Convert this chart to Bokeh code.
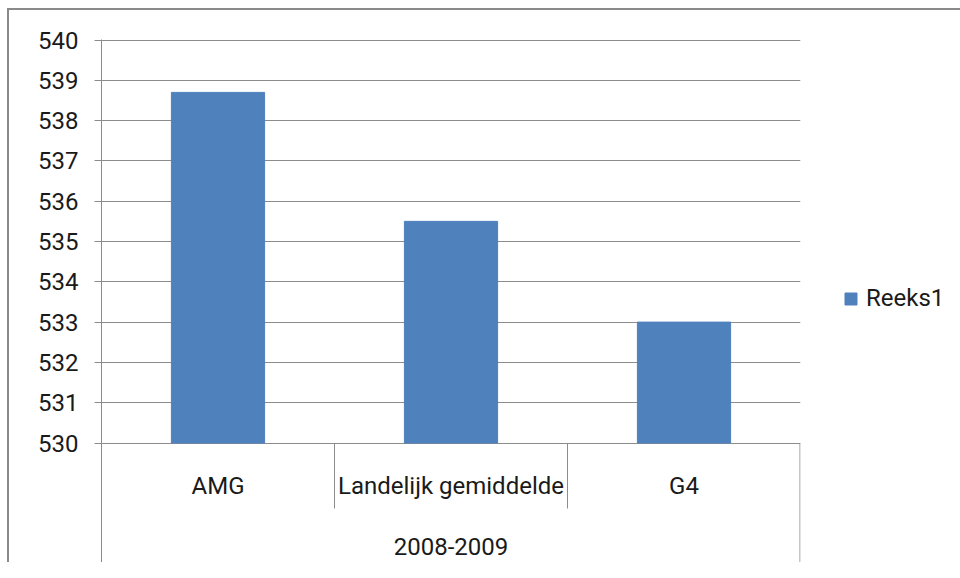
from bokeh.plotting import figure
from bokeh.models import FactorRange, Range1d, FixedTicker, Legend, LegendItem
from bokeh.core.properties import value
from bokeh.embed import file_html
from bokeh.resources import INLINE

# ---- data ----
categories = ["AMG", "Landelijk gemiddelde", "G4"]
values = [538.7, 535.5, 533.0]
group_label = "2008-2009"
series_name = "Reeks1"
y_ticks = [530, 531, 532, 533, 534, 535, 536, 537, 538, 539, 540]

# ---- style / layout ----
FONT = "Roboto"
FSIZE = "24px"
BAR = "#4F81BD"
GRID = "#8c8c8c"
PPU = 40.3  # px per y unit
FRAME_H = 523
y_end = 540 + 0.5 / PPU
y_start = y_end - FRAME_H / PPU

def y_at(px_from_top):
    return y_end - px_from_top / PPU

p = figure(
    frame_width=699, frame_height=FRAME_H,
    x_range=FactorRange(factors=categories, range_padding=0, factor_padding=0),
    y_range=Range1d(y_start, y_end),
    output_backend="svg", toolbar_location=None,
    min_border_left=101, min_border_right=0, min_border_top=39, min_border_bottom=0,
)
# outer chart frame (left and top edges), drawn behind the transparent border area
p.styles = {"box-shadow": "inset 7px 8px 0 0 #ffffff, inset 9px 10px 0 0 #8a8a8a"}
p.outline_line_color = None
p.background_fill_color = "white"
p.border_fill_alpha = 0

r = p.vbar(x=categories, top=values, bottom=y_ticks[0], width=0.4,
           fill_color=BAR, line_color=BAR)

p.xaxis.visible = False
p.xgrid.visible = False

ya = p.yaxis[0]
ya.ticker = FixedTicker(ticks=y_ticks, minor_ticks=[])
ya.axis_line_color = GRID
ya.major_tick_line_color = GRID
ya.major_tick_out = 7
ya.major_tick_in = 0
ya.minor_tick_line_color = None
ya.major_label_text_font = FONT
ya.major_label_text_font_size = FSIZE
ya.major_label_text_color = "#1a1a1a"
ya.major_label_standoff = 16
p.ygrid.ticker = FixedTicker(ticks=y_ticks)
p.ygrid.grid_line_color = GRID

# category separators (synthetic coords of the factor range)
base = y_ticks[0]
sep_bottom = y_at(469)
p.segment(x0=[1, 2], x1=[1, 2], y0=[base, base], y1=[sep_bottom, sep_bottom],
          line_color=GRID, line_width=1)
xr = 3 - 0.5 / 233
p.segment(x0=[xr], x1=[xr], y0=[base], y1=[y_start], line_color=GRID, line_width=1)

# category labels
p.text(x=categories, y=[y_at(446)] * len(categories), text=categories,
       text_align="center", text_baseline="middle",
       text_font=value(FONT), text_font_size=FSIZE, text_color="#1a1a1a")
# group label
p.text(x=[1.5], y=[y_at(507)], text=[group_label],
       text_align="center", text_baseline="middle",
       text_font=value(FONT), text_font_size=FSIZE, text_color="#1a1a1a")

legend = Legend(items=[LegendItem(label=series_name, renderers=[r])],
                location=(43, 250), padding=0, margin=0, spacing=0,
                glyph_width=15, glyph_height=15, label_standoff=8,
                label_text_font=FONT, label_text_font_size=FSIZE,
                label_text_color="#1a1a1a",
                border_line_color=None, background_fill_alpha=0)
p.add_layout(legend, "right")

open("out.html", "w").write(file_html(p, INLINE))
